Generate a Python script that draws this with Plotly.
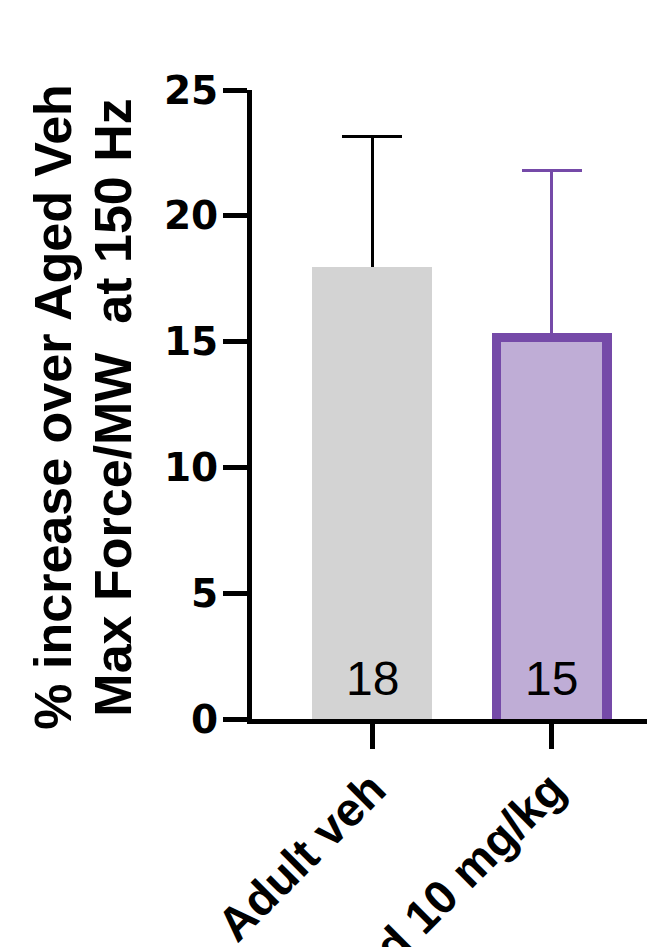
import plotly.graph_objects as go

# Group labels, means, upper SD and n per group
groups = ["Adult veh", "Aged 10 mg/kg"]
means = [17.95, 15.35]
sd_upper = [5.22, 6.45]
n_counts = [18, 15]

# Styling
gray_fill = "#D3D3D3"
purple_fill = "#BFADD6"
purple_edge = "#754AA8"
err_colors = ["black", purple_edge]
bold_font = "Liberation Sans, Arial, sans-serif"

W, H = 647, 947
ml, mr, mt, mb = 252, 0, 90, 228
plot_w = W - ml - mr
plot_h = H - mt - mb

y_range = [0, 25]
px_per_unit = plot_h / (y_range[1] - y_range[0])
cat_step_px = 179.5
bar_px = 120
border_px = 9.5
x_range = [-(bar_px / cat_step_px), (plot_w - bar_px) / cat_step_px]
bar_w = bar_px / cat_step_px
inner_w = (bar_px - 2 * border_px) / cat_step_px
border_units = border_px / px_per_unit
# error bars start a few px inside the bar so the lower cap is hidden by the bar
tuck = 4 / px_per_unit

fig = go.Figure()

# Upward-only SD bars, drawn first (transparent carriers) so the bars cover the lower caps
for g, m, sd, c in zip(groups, means, sd_upper, err_colors):
    fig.add_trace(go.Bar(
        x=[g], y=[m - tuck], width=bar_w,
        marker=dict(color="rgba(0,0,0,0)", line=dict(width=0)),
        error_y=dict(type="data", array=[sd + tuck], arrayminus=[0], symmetric=False,
                     color=c, thickness=3 if c == "black" else 3.5, width=30),
        showlegend=False, hoverinfo="skip",
    ))

# Adult vehicle bar
fig.add_trace(go.Bar(
    x=[groups[0]], y=[means[0]], width=bar_w,
    marker=dict(color=gray_fill, line=dict(width=0)),
    showlegend=False,
))

# Aged treated bar: dark outline drawn as an outer bar with a lighter inner fill
fig.add_trace(go.Bar(
    x=[groups[1]], y=[means[1]], width=bar_w,
    marker=dict(color=purple_edge, line=dict(width=0)),
    showlegend=False,
))
fig.add_trace(go.Bar(
    x=[groups[1]], y=[means[1] - border_units], width=inner_w,
    marker=dict(color=purple_fill, line=dict(width=0)),
    showlegend=False, hoverinfo="skip",
))

# n per group printed inside the bars
for g, n in zip(groups, n_counts):
    fig.add_annotation(
        x=g, y=0, xref="x", yref="y", text=str(n), showarrow=False,
        yanchor="bottom", yshift=12,
        font=dict(family="Liberation Sans, Arial, sans-serif", size=48, color="black"),
    )

# Two-line y-axis title
title_lines = ["% increase over Aged Veh", "Max Force/MW  at 150 Hz"]
title_x_px = [53, 113]
for line, xp in zip(title_lines, title_x_px):
    fig.add_annotation(
        x=(xp - ml) / plot_w, y=0.495, xref="paper", yref="paper",
        text=line, showarrow=False, textangle=-90,
        xanchor="center", yanchor="middle",
        font=dict(family=bold_font, size=52, color="black", weight="bold"),
    )

fig.update_layout(
    width=W, height=H,
    margin=dict(l=ml, r=mr, t=mt, b=mb, pad=0),
    paper_bgcolor="white", plot_bgcolor="white",
    barmode="overlay", bargap=0,
    showlegend=False,
)

fig.update_yaxes(
    range=y_range, tick0=0, dtick=5, showgrid=False, zeroline=False,
    showline=True, linecolor="black", linewidth=5,
    ticks="outside", ticklen=24, tickwidth=5, tickcolor="black",
    ticklabelstandoff=-3,
    tickfont=dict(family="DejaVu Sans, sans-serif", size=39, color="black", weight="bold"),
    automargin=False,
)
fig.update_xaxes(
    type="category", categoryorder="array", categoryarray=groups,
    range=x_range, showgrid=False, zeroline=False,
    showline=True, linecolor="black", linewidth=5,
    ticks="outside", ticklen=25, tickwidth=5, tickcolor="black",
    tickangle=-45, ticklabelstandoff=-6,
    tickfont=dict(family=bold_font, size=47, color="black", weight="bold"),
    automargin=False,
)

fig.write_html("out.html")
